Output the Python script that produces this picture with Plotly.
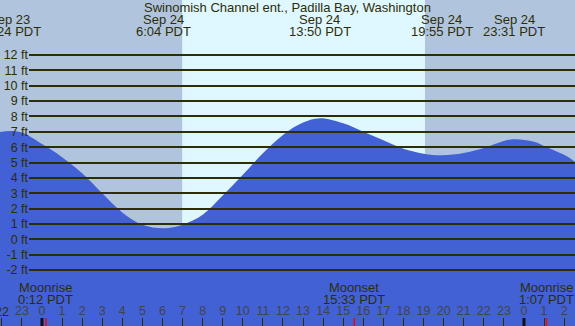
import plotly.graph_objects as go

# ---------------- data ----------------
# hours relative to midnight starting Sep 24 (negative = Sep 23)
tide_hours = [-2.09, -1.6, -1.0, 0.0, 1.0, 2.0, 3.0, 4.0, 5.0, 6.07, 7.0,
              8.0, 9.0, 10.0, 11.0, 12.0, 13.0, 13.84, 15.0, 16.0, 17.0,
              18.0, 19.0, 19.92, 21.0, 22.0, 23.0, 23.52, 24.5, 25.13, 26.0, 26.54]
tide_feet = [6.98, 7.05, 6.95, 6.2, 5.35, 4.3, 3.0, 1.75, 0.95, 0.72, 0.95,
             1.6, 2.85, 4.2, 5.6, 6.8, 7.6, 7.88, 7.55, 7.0, 6.45,
             5.9, 5.58, 5.47, 5.62, 5.95, 6.4, 6.52, 6.35, 6.0, 5.5, 5.05]

extreme_hours = [-1.6, 6.067, 13.833, 19.917, 23.517]
extreme_dates = ["Sep 23", "Sep 24", "Sep 24", "Sep 24", "Sep 24"]
extreme_times = ["22:24 PDT", "6:04 PDT", "13:50 PDT", "19:55 PDT", "23:31 PDT"]

moon_hours = [0.2, 15.55, 25.117]
moon_events = ["Moonrise", "Moonset", "Moonrise"]
moon_times = ["0:12 PDT", "15:33 PDT", "1:07 PDT"]

sunrise_hour = 6.98
sunset_hour = 19.07

hour_ticks = list(range(-2, 27))
hour_labels = [str(h % 24) for h in hour_ticks]
feet_ticks = list(range(-2, 13))
feet_labels = [f"{v} ft" for v in feet_ticks]

title = "Swinomish Channel ent., Padilla Bay, Washington"

# ---------------- style ----------------
W, H = 575, 326
X_RANGE = [-2.09, 26.54]
Y_RANGE = [-5.64, 15.58]
NIGHT = "#b0c4de"
DAY = "#dff7ff"
WATER = "#4161d5"
INK = "#2e2e05"
FONT = "Liberation Sans, Arial, sans-serif"

fig = go.Figure()

# baseline for the water fill
fig.add_trace(go.Scatter(x=X_RANGE, y=[Y_RANGE[0], Y_RANGE[0]], mode="lines",
                         line=dict(width=0, color=WATER), hoverinfo="skip",
                         showlegend=False))
fig.add_trace(go.Scatter(x=tide_hours, y=tide_feet, mode="lines",
                         line=dict(width=0, shape="spline", color=WATER),
                         fill="tonexty", fillcolor=WATER, showlegend=False))
# subplot for the height grid (starts right of the labels)
fig.add_trace(go.Scatter(x=[], y=[], xaxis="x2", yaxis="y2", showlegend=False))

shapes = [dict(type="rect", xref="x", yref="paper", x0=sunrise_hour, x1=sunset_hour,
               y0=0, y1=1, fillcolor=DAY, line=dict(width=0), layer="below")]
tick_h = 8 / H
for h in hour_ticks:
    if h % 24 == 0:
        shapes.append(dict(type="line", xref="x", yref="paper", x0=h, x1=h,
                           y0=0, y1=tick_h, line=dict(color="#111111", width=3)))
for h in moon_hours:
    shapes.append(dict(type="line", xref="x", yref="paper", x0=h, x1=h,
                       y0=0, y1=tick_h, line=dict(color="#ff0000", width=1.5)))

def py(p):
    return 1 - p / H

ann = [dict(text=title, x=0.5, xref="paper", y=py(7.5), yref="paper",
            showarrow=False, xanchor="center", yanchor="middle")]
for h, d, t in zip(extreme_hours, extreme_dates, extreme_times):
    ann.append(dict(text=d, x=h, xref="x", y=py(19.5), yref="paper",
                    showarrow=False, xanchor="center", yanchor="middle"))
    ann.append(dict(text=t, x=h, xref="x", y=py(31.5), yref="paper",
                    showarrow=False, xanchor="center", yanchor="middle"))
for h, e, t in zip(moon_hours, moon_events, moon_times):
    ann.append(dict(text=e, x=h, xref="x", y=py(287.5), yref="paper",
                    showarrow=False, xanchor="center", yanchor="middle"))
    ann.append(dict(text=t, x=h, xref="x", y=py(299.5), yref="paper",
                    showarrow=False, xanchor="center", yanchor="middle"))
# first hour label is partly outside the window; plotly would hide it
ann.append(dict(text=hour_labels[0], x=hour_ticks[0], xref="x", y=py(311.5),
                yref="paper", showarrow=False, xanchor="center", yanchor="middle",
                font=dict(size=12.5)))

fig.update_layout(
    width=W, height=H, margin=dict(l=0, r=0, t=0, b=0, pad=0),
    paper_bgcolor=NIGHT, plot_bgcolor="rgba(0,0,0,0)",
    font=dict(family=FONT, size=13, color=INK),
    showlegend=False,
    xaxis=dict(domain=[0, 1], range=X_RANGE, tickvals=hour_ticks, ticktext=hour_labels,
               ticks="inside", ticklen=8, tickwidth=1, tickcolor=INK,
               tickfont=dict(size=12.5),
               ticklabelposition="inside", showgrid=False, zeroline=False,
               showline=False, fixedrange=True, anchor="y"),
    yaxis=dict(domain=[0, 1], range=Y_RANGE, visible=False, showgrid=False,
               zeroline=False, anchor="x"),
    xaxis2=dict(domain=[29 / W, 1], range=X_RANGE, visible=False, anchor="y2"),
    yaxis2=dict(domain=[0, 1], range=Y_RANGE, anchor="x2", tickvals=feet_ticks,
                ticktext=feet_labels, showgrid=True, gridcolor=INK, gridwidth=1.6,
                tickfont=dict(size=12.5),
                zeroline=False, showline=False, ticks=""),
    shapes=shapes,
    annotations=ann,
)

fig.write_html("out.html", config={"displayModeBar": False},
               post_script="document.body.style.margin='0';")
